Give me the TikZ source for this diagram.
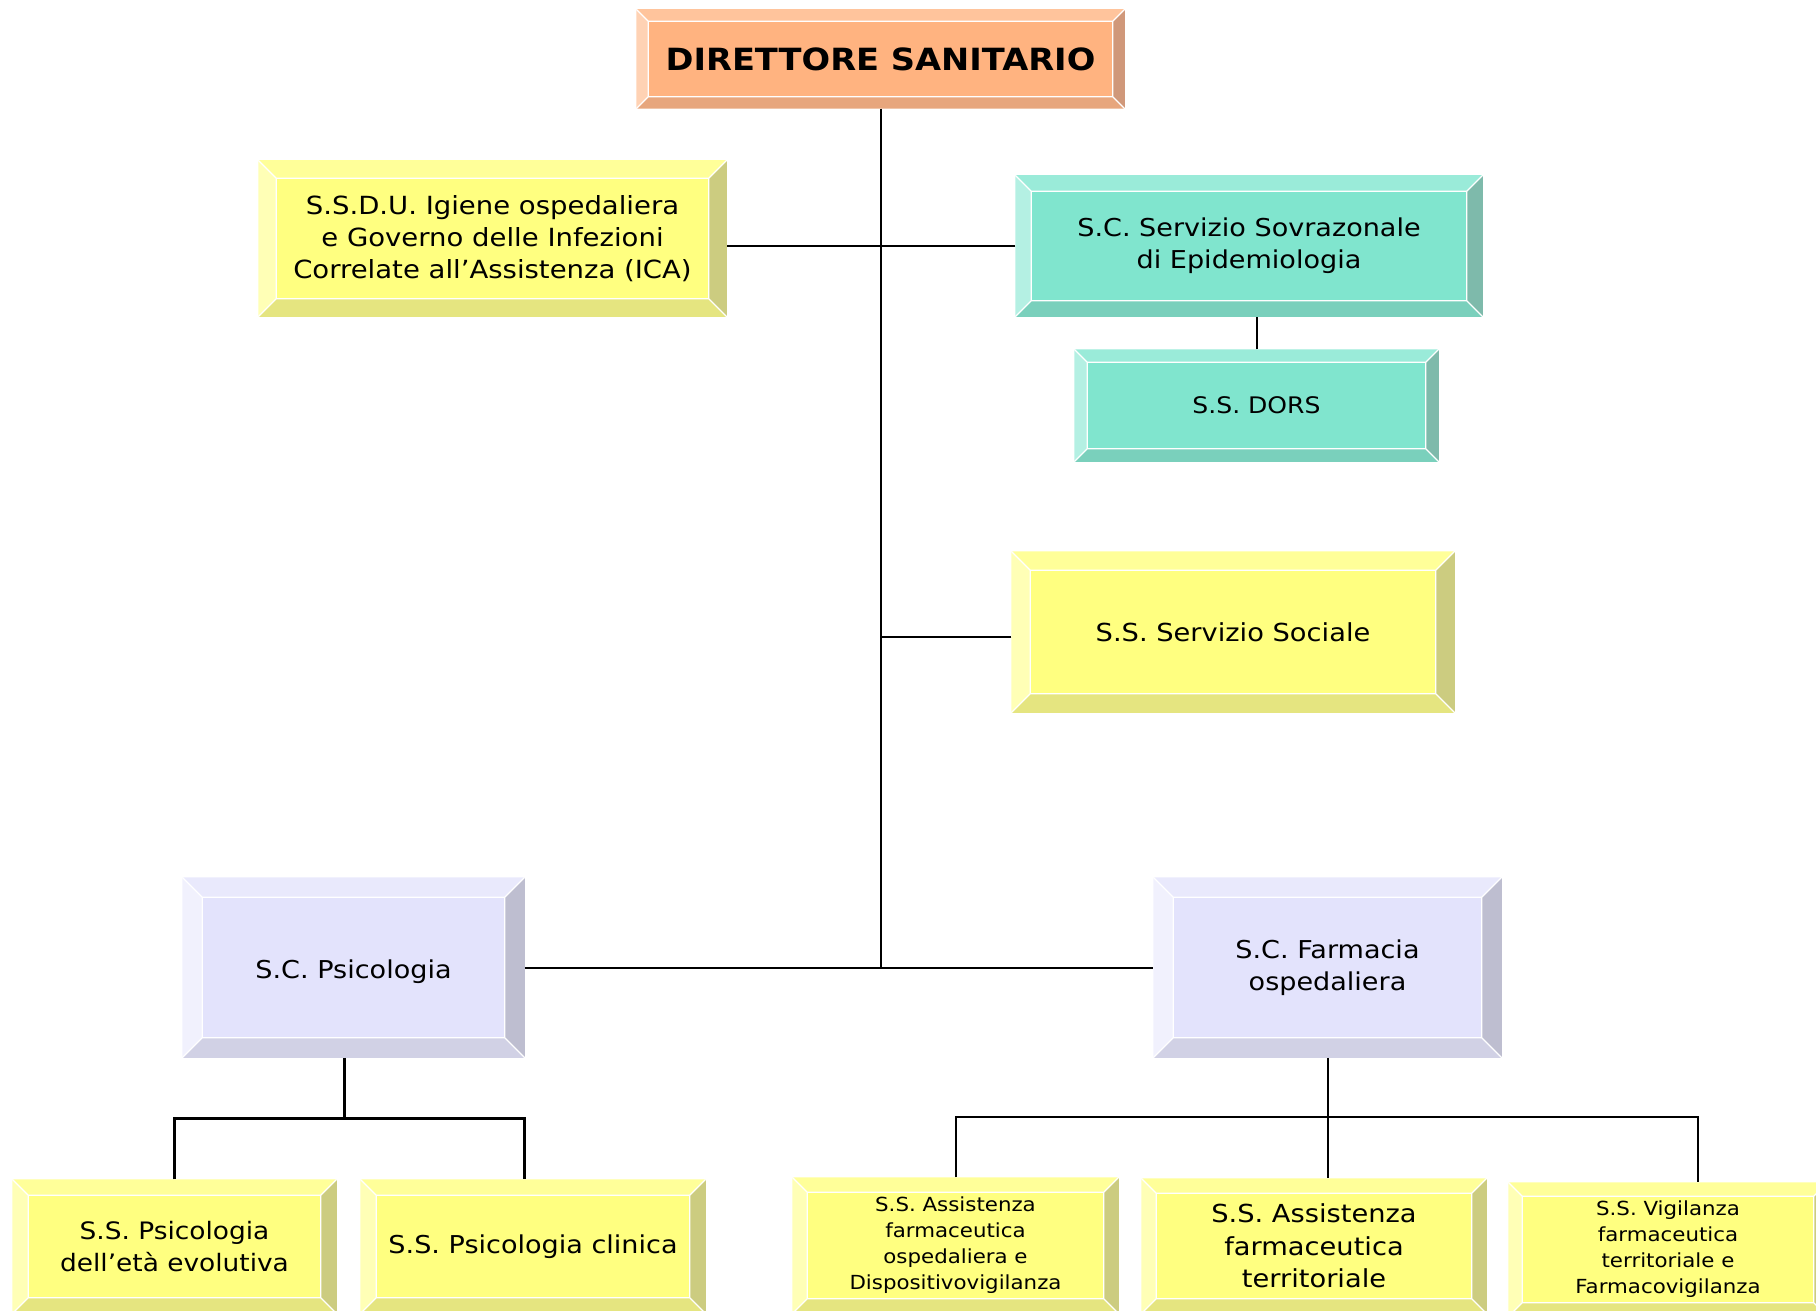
\documentclass[tikz,border=0pt]{standalone}
\usepackage{fontspec}
\setmainfont{DejaVu Sans}[FakeStretch=1.1]
\usetikzlibrary{calc}

% colour sets: face, top, left, bottom, right
\definecolor{peachface}{RGB}{255,179,128}
\definecolor{peachtop}{RGB}{255,196,156}
\definecolor{peachleft}{RGB}{255,210,180}
\definecolor{peachbot}{RGB}{231,166,125}
\definecolor{peachright}{RGB}{208,152,122}
\definecolor{yelface}{RGB}{255,255,128}
\definecolor{yeltop}{RGB}{255,255,153}
\definecolor{yelleft}{RGB}{255,255,182}
\definecolor{yelbot}{RGB}{229,229,128}
\definecolor{yelright}{RGB}{204,204,128}
\definecolor{tealface}{RGB}{128,229,206}
\definecolor{tealtop}{RGB}{154,235,217}
\definecolor{tealleft}{RGB}{180,240,227}
\definecolor{tealbot}{RGB}{122,208,188}
\definecolor{tealright}{RGB}{126,186,171}
\definecolor{lavface}{RGB}{227,227,252}
\definecolor{lavtop}{RGB}{233,233,252}
\definecolor{lavleft}{RGB}{241,241,253}
\definecolor{lavbot}{RGB}{209,209,229}
\definecolor{lavright}{RGB}{190,190,208}

\tikzset{every picture/.style={line width=0.75pt}}
\tikzset{
  unitbox/.style={rectangle, inner sep=0pt, align=center, text=black},
  link/.style={draw=black, line width=1pt},
  thicklink/.style={draw=black, line width=1.5pt},
  txttitle/.style={font=\fontsize{15.3pt}{18pt}\selectfont\bfseries},
  txtsmall/.style={font=\fontsize{9.7pt}{13pt}\selectfont},
}

% bevelled frame round a named node
\newcommand{\bevel}[3]{%
  \fill[#2top] (#1.north west) -- (#1.north east) -- ($(#1.north east)+(-#3,#3)$) -- ($(#1.north west)+(#3,#3)$) -- cycle;
  \fill[#2bot] (#1.south west) -- (#1.south east) -- ($(#1.south east)+(-#3,-#3)$) -- ($(#1.south west)+(#3,-#3)$) -- cycle;
  \fill[#2left] (#1.north west) -- ($(#1.north west)+(#3,#3)$) -- ($(#1.south west)+(#3,-#3)$) -- (#1.south west) -- cycle;
  \fill[#2right] (#1.north east) -- ($(#1.north east)+(-#3,#3)$) -- ($(#1.south east)+(-#3,-#3)$) -- (#1.south east) -- cycle;
  \draw[white, line width=0.6pt] ($(#1.north west)+(#3,#3)$) rectangle ($(#1.south east)+(-#3,-#3)$)
    (#1.north west) -- ++(#3,#3) (#1.north east) -- ++(-#3,#3)
    (#1.south west) -- ++(#3,-#3) (#1.south east) -- ++(-#3,-#3);
}

\begin{document}
\begin{tikzpicture}[x=0.5pt,y=0.5pt,yscale=-1,xscale=1]
\useasboundingbox (0,0) rectangle (1816,1311);

%Boxes
\node[unitbox, fill=peachface, minimum width=243.5pt, minimum height=49pt, txttitle] (dir) at (880.5,59) {DIRETTORE SANITARIO};
\node[unitbox, fill=yelface, minimum width=233.5pt, minimum height=77.5pt, font=\fontsize{12.5pt}{16pt}\selectfont] (ica) at (492.5,238.5) {S.S.D.U. Igiene ospedaliera\\e Governo delle Infezioni\\Correlate all’Assistenza (ICA)};
\node[unitbox, fill=tealface, minimum width=233pt, minimum height=70pt, font=\fontsize{12.3pt}{16pt}\selectfont] (epi) at (1249,246) {S.C. Servizio Sovrazonale\\di Epidemiologia};
\node[unitbox, fill=tealface, minimum width=181.5pt, minimum height=55.5pt, font=\fontsize{11.4pt}{14pt}\selectfont] (dors) at (1256.5,405.5) {S.S. DORS};
\node[unitbox, fill=yelface, minimum width=221pt, minimum height=80pt, font=\fontsize{12.4pt}{15pt}\selectfont] (soc) at (1233,632) {S.S. Servizio Sociale};
\node[unitbox, fill=lavface, minimum width=170.5pt, minimum height=89.5pt, font=\fontsize{12.3pt}{15.5pt}\selectfont] (psi) at (353.5,967.5) {\rule{0pt}{14pt}S.C. Psicologia};
\node[unitbox, fill=lavface, minimum width=173.5pt, minimum height=89.5pt, font=\fontsize{12.3pt}{15.8pt}\selectfont] (far) at (1327.5,967.5) {S.C. Farmacia\\ospedaliera};
\node[unitbox, fill=yelface, minimum width=161.5pt, minimum height=66.5pt, font=\fontsize{12pt}{15.8pt}\selectfont] (evo) at (174.5,1246.5) {S.S. Psicologia\\dell’età evolutiva};
\node[unitbox, fill=yelface, minimum width=172pt, minimum height=66.5pt, font=\fontsize{12.3pt}{15pt}\selectfont] (cli) at (533,1246.5) {S.S. Psicologia clinica};
\node[unitbox, fill=yelface, minimum width=162.5pt, minimum height=67.5pt, txtsmall] (osp) at (955.5,1245.5) {S.S. Assistenza\\farmaceutica\\ospedaliera e\\Dispositivovigilanza};
\node[unitbox, fill=yelface, minimum width=172pt, minimum height=67pt, font=\fontsize{12.4pt}{16.3pt}\selectfont] (ter) at (1314,1246) {S.S. Assistenza\\farmaceutica\\territoriale};
\node[unitbox, fill=yelface, minimum width=159pt, minimum height=66.5pt, txtsmall] (vig) at (1668,1249.5) {S.S. Vigilanza\\farmaceutica\\territoriale e\\Farmacovigilanza};

%Bevels
\bevel{dir}{peach}{12}
\bevel{ica}{yel}{18}
\bevel{epi}{teal}{16}
\bevel{dors}{teal}{13}
\bevel{soc}{yel}{19}
\bevel{psi}{lav}{20}
\bevel{far}{lav}{20}
\bevel{evo}{yel}{16}
\bevel{cli}{yel}{16}
\bevel{osp}{yel}{15}
\bevel{ter}{yel}{15}
\bevel{vig}{yel}{14}

%Straight Lines
\coordinate (hub) at (dir.south |- psi.east);
\draw[link] (dir.south) -- (hub);
\draw[link] (psi.east) -- (far.west);
\draw[link] (epi.west) -- (epi.west -| ica.east);
\draw[link] (dors.north) -- (dors.north |- epi.south);
\draw[link] ($(soc.west)+(0,5)$) -- ($(soc.west -| dir.south)+(0,5)$);

%Straight Lines
\coordinate (psibus) at (344,1118);
\draw[thicklink] (psibus |- psi.south) -- (psibus);
\draw[thicklink] (evo.north) -- (evo.north |- psibus) -- (psi.east |- psibus) -- (psi.east |- cli.north);

%Straight Lines
\coordinate (farbus) at (1327.5,1117);
\coordinate (vigdrop) at (1698,1117);
\draw[link] (far.south) -- (far.south |- ter.north);
\draw[link] (osp.north) -- (osp.north |- farbus) -- (vigdrop) -- (vigdrop |- vig.north);

\end{tikzpicture}
\end{document}
